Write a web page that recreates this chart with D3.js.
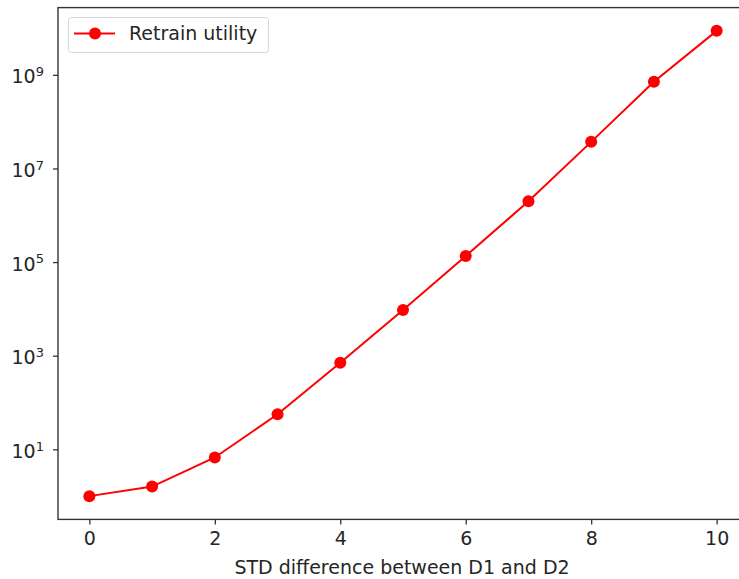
<!DOCTYPE html>
<html>
<head>
  <meta charset="utf-8">
  <style>
    body { margin: 0; background: white; }
    svg { display: block; font-family: "DejaVu Sans", sans-serif; }
  </style>
</head>
<body>
  <div id="chart"></div>
  <script src="https://d3js.org/d3.v7.min.js"></script>
  <script>

  // data
  var stdDiff = [0, 1, 2, 3, 4, 5, 6, 7, 8, 9, 10]
  var retrainUtility = [1.0, 1.6, 6.7, 56, 710, 9500, 1.35e5, 2.0e6, 3.7e7, 7.1e8, 8.7e9]
  var xTicks = [0, 2, 4, 6, 8, 10]
  var yTickExps = [1, 3, 5, 7, 9]

  var width = 739, height = 579
  var plotLeft = 58, plotTop = 7.6, plotW = 690, plotBottom = 519.4
  var textColor = "#262626", fontSize = 19

  var svg = d3.select("#chart").append("svg")
      .attr("width", width)
      .attr("height", height)

  // matplotlib style 5% margins
  var xPad = 0.05 * (d3.max(stdDiff) - d3.min(stdDiff))
  var x = d3.scaleLinear()
      .domain([d3.min(stdDiff) - xPad, d3.max(stdDiff) + xPad])
      .range([plotLeft, plotLeft + plotW])

  var lo = Math.log10(d3.min(retrainUtility)), hi = Math.log10(d3.max(retrainUtility))
  var yPad = 0.05 * (hi - lo)
  var y = d3.scaleLog()
      .domain([Math.pow(10, lo - yPad), Math.pow(10, hi + yPad)])
      .range([plotBottom, plotTop])

  // frame
  svg.append("rect")
      .attr("x", plotLeft).attr("y", plotTop)
      .attr("width", plotW).attr("height", plotBottom - plotTop)
      .attr("fill", "none").attr("stroke", "#333").attr("stroke-width", 1.4)

  // x axis
  var gx = svg.append("g")
      .attr("transform", "translate(0," + plotBottom + ")")
      .call(d3.axisBottom(x).tickValues(xTicks).tickSize(5).tickPadding(7).tickFormat(d3.format("d")))
      .attr("font-size", fontSize).attr("font-family", "DejaVu Sans")
  gx.select(".domain").remove()
  gx.selectAll(".tick line").attr("stroke", "#333").attr("stroke-width", 1.3)
  gx.selectAll(".tick text").attr("fill", textColor)

  // y axis with 10^n labels
  var gy = svg.append("g")
      .attr("transform", "translate(" + plotLeft + ",0)")
      .call(d3.axisLeft(y).tickValues(yTickExps.map(function (e) { return Math.pow(10, e) })).tickSize(5).tickFormat(""))
      .attr("font-size", fontSize).attr("font-family", "DejaVu Sans")
  gy.select(".domain").remove()
  gy.selectAll(".tick line").attr("stroke", "#333").attr("stroke-width", 1.3)
  gy.selectAll(".tick text").each(function (d) {
    var t = d3.select(this).attr("dy", "0.42em").attr("x", -14).attr("fill", textColor)
    t.append("tspan").text("10")
    t.append("tspan").attr("dy", "-0.55em").attr("font-size", "13px").text(Math.round(Math.log10(d)))
  })

  // line + markers
  var pts = stdDiff.map(function (d, i) { return [d, retrainUtility[i]] })
  svg.append("path")
      .datum(pts)
      .attr("fill", "none")
      .attr("stroke", "#ff0000")
      .attr("stroke-width", 2)
      .attr("d", d3.line().x(function (d) { return x(d[0]) }).y(function (d) { return y(d[1]) }))
  svg.append("g").selectAll("circle")
      .data(pts).enter().append("circle")
      .attr("cx", function (d) { return x(d[0]) })
      .attr("cy", function (d) { return y(d[1]) })
      .attr("r", 6)
      .attr("fill", "#ff0000")

  // x label
  svg.append("text")
      .attr("x", 402).attr("y", 574)
      .attr("text-anchor", "middle")
      .attr("font-size", fontSize).attr("fill", textColor)
      .text("STD difference between D1 and D2")

  // legend
  var lg = svg.append("g")
  lg.append("rect")
      .attr("x", 68.5).attr("y", 17.5).attr("width", 200).attr("height", 35).attr("rx", 3)
      .attr("fill", "white").attr("stroke", "#d6d6d6")
  lg.append("line")
      .attr("x1", 74).attr("x2", 115).attr("y1", 33.5).attr("y2", 33.5)
      .attr("stroke", "#ff0000").attr("stroke-width", 2)
  lg.append("circle").attr("cx", 95).attr("cy", 33.5).attr("r", 6).attr("fill", "#ff0000")
  lg.append("text")
      .attr("x", 129).attr("y", 40)
      .attr("font-size", fontSize).attr("fill", textColor)
      .text("Retrain utility")

  </script>
</body>
</html>
